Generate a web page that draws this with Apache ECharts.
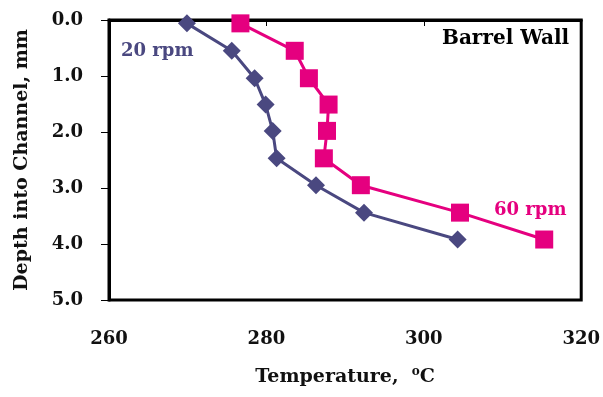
<!DOCTYPE html>
<html><head><meta charset="utf-8">
<script src="https://cdn.jsdelivr.net/npm/echarts@6/dist/echarts.min.js"></script>
<style>html,body{margin:0;padding:0;background:#fff}#c{width:603px;height:397px}</style>
</head><body><div id="c"></div>
<script>
var depths = [0.06, 0.55, 1.04, 1.51, 1.98, 2.47, 2.95, 3.44, 3.92];
var temp20 = [269.9, 275.6, 278.5, 279.9, 280.8, 281.3, 286.3, 292.4, 304.3];
var temp60 = [276.7, 283.6, 285.4, 287.9, 287.7, 287.3, 292.0, 304.6, 315.3];
var xTicks = [260, 280, 300, 320];
var yTicks = [0, 1, 2, 3, 4, 5];
var seriesNames = ['20 rpm', '60 rpm'];

function pairs(t){ return t.map(function(v,i){ return [v, depths[i]]; }); }
var font = 'DejaVu Serif';
var chart = echarts.init(document.getElementById('c'));
chart.setOption({
  animation:false,
  grid:{left:109, top:20, width:473, height:280, show:true, borderColor:'#000', borderWidth:3, backgroundColor:'transparent'},
  xAxis:{type:'value', min:260, max:320, interval:20,
    axisLine:{show:true, lineStyle:{color:'#000', width:3}},
    axisTick:{show:true, length:6, lineStyle:{color:'#000'}},
    splitLine:{show:false},
    axisLabel:{margin:30, fontFamily:font, fontWeight:'bold', fontSize:18, color:'#111',
      formatter:function(v){ return xTicks.indexOf(v)>=0 ? String(v) : ''; }},
    name:'{a|Temperature,  }{s|o}{a|C}', nameLocation:'middle', nameGap:66,
    nameTextStyle:{rich:{a:{fontFamily:font, fontWeight:'bold', fontSize:19, color:'#111'},
      s:{fontFamily:font, fontWeight:'bold', fontSize:12, color:'#111', verticalAlign:'top', padding:[0,0,10,0]}}}
  },
  yAxis:{type:'value', min:0, max:5, interval:1, inverse:true,
    axisLine:{show:true, lineStyle:{color:'#000', width:3}},
    axisTick:{show:true, length:8, lineStyle:{color:'#000'}},
    splitLine:{show:false},
    axisLabel:{margin:26, fontFamily:font, fontWeight:'bold', fontSize:18, color:'#111',
      formatter:function(v){ return yTicks.indexOf(v)>=0 ? v.toFixed(1) : ''; }},
    name:'Depth into Channel, mm', nameLocation:'middle', nameGap:77, nameRotate:90,
    nameTextStyle:{fontFamily:font, fontWeight:'bold', fontSize:19, color:'#111'}
  },
  series:[
    {name:seriesNames[0], type:'line', data:pairs(temp20), symbol:'diamond', symbolSize:18,
      lineStyle:{color:'#4a4880', width:3}, itemStyle:{color:'#4a4880'}},
    {name:seriesNames[1], type:'line', data:pairs(temp60), symbol:'rect', symbolSize:18,
      lineStyle:{color:'#e5007f', width:3}, itemStyle:{color:'#e5007f'}}
  ],
  graphic:[
    {type:'text', left:442, top:29, style:{text:'Barrel Wall', font:'bold 20px "DejaVu Serif"', fill:'#000'}},
    {type:'text', left:121, top:42, style:{text:seriesNames[0], font:'bold 18px "DejaVu Serif"', fill:'#4a4880'}},
    {type:'text', left:494, top:201, style:{text:seriesNames[1], font:'bold 18px "DejaVu Serif"', fill:'#e5007f'}}
  ]
});
</script></body></html>
